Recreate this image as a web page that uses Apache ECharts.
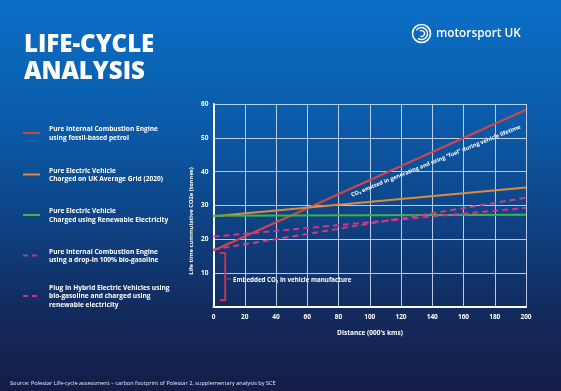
<!DOCTYPE html>
<html><head><meta charset="utf-8">
<script src="https://cdn.jsdelivr.net/npm/echarts@6/dist/echarts.min.js"></script>
<style>html,body{margin:0;padding:0;}#c{width:561px;height:391px;}</style>
</head><body><div id="c"></div>
<script>
// ---- data ----
const distance = [0, 200];
const iceFossil = [16.7, 58.3];
const bevGrid = [26.8, 35.3];
const bevRenewable = [27.0, 27.3];
const iceBio = [17.0, 32.3];
const phev = [20.8, 29.3];
const xTicks = [0, 20, 40, 60, 80, 100, 120, 140, 160, 180, 200];
const yTicks = [0, 10, 20, 30, 40, 50, 60];
const bracketX = [4, 7.5, 7.5, 4];
const bracketY = [16, 16, 2, 2];
const tickX = [8.5, 11];
const tickY = [8.3, 8.3];

const seriesNames = [
  'Pure Internal Combustion Engine\nusing fossil-based petrol',
  'Pure Electric Vehicle\nCharged on UK Average Grid (2020)',
  'Pure Electric Vehicle\nCharged using Renewable Electricity',
  'Pure Internal Combustion Engine\nusing a drop-in 100% bio-gasoline',
  'Plug In Hybrid Electric Vehicles using\nbio-gasoline and charged using\nrenewable electricity'
];
const seriesData = [iceFossil, bevGrid, bevRenewable, iceBio, phev];
const colors = ['#d2454a', '#de8a3c', '#3fb548', '#c8407c', '#e32a93'];
const legendColors = ['#c9474a', '#d98a3e', '#40b54a', '#9a4a86', '#e0288f'];
const dashed = [false, false, false, true, true];

const F = '"Open Sans", "DejaVu Sans", sans-serif';
const chart = echarts.init(document.getElementById('c'));

function pts(xs, ys){ return xs.map((x,i)=>[x, ys[i]]); }

const series = seriesData.map((d,i)=>({
  name: seriesNames[i], type: 'line', data: pts(distance, d), symbol: 'none',
  lineStyle: {color: colors[i], width: 2, type: dashed[i] ? [6,4] : 'solid'},
  z: i >= 3 ? 3 : 2, silent: true
}));
series.push({type:'line', data: pts(bracketX, bracketY), symbol:'none', lineStyle:{color:'#d8344f', width:1.8}, silent:true});
series.push({type:'line', data: pts(tickX, tickY), symbol:'none', lineStyle:{color:'#d8344f', width:1.2}, silent:true});

// legend graphics
const legendCenters = [133, 174.5, 215, 255.5, 296];
const graphics = [];
seriesNames.forEach((n,i)=>{
  const c = legendCenters[i];
  graphics.push({type:'line', shape:{x1:23,y1:c,x2:40,y2:c}, style:{stroke:legendColors[i], lineWidth:2, lineDash: dashed[i]?[5,4]:null}});
  const lines = n.split('\n').length;
  graphics.push({type:'text', x:49, y:c - lines*8.6/2 + 0.5, style:{text:n, fill:'#ffffff', font:'bold 6.6px ' + F, lineHeight:8.6, verticalAlign:'top'}});
});
// title
graphics.push({type:'text', x:24, y:32, style:{text:'LIFE-CYCLE\nANALYSIS', fill:'#ffffff', font:'800 24px ' + F, lineHeight:27, verticalAlign:'top'}});
// logo
graphics.push({type:'circle', shape:{cx:421.5, cy:33.5, r:9}, style:{fill:'none', stroke:'#ffffff', lineWidth:1.6}});
graphics.push({type:'arc', shape:{cx:421.5, cy:33.5, r:6, startAngle:-2.6, endAngle:2.2}, style:{fill:'none', stroke:'#ffffff', lineWidth:1.4}});
graphics.push({type:'arc', shape:{cx:421.5, cy:33.5, r:3, startAngle:-2.2, endAngle:2.0}, style:{fill:'none', stroke:'#ffffff', lineWidth:1.3}});
graphics.push({type:'text', x:436, y:33.5, style:{text:'motorsport UK', fill:'#ffffff', font:'600 11.8px ' + F, verticalAlign:'middle'}});
// axis names
graphics.push({type:'text', x:191, y:221, rotation:Math.PI/2, style:{text:'Life time cummulative CO2e (tonnes)', fill:'#ffffff', font:'bold 5.8px ' + F, align:'center', verticalAlign:'middle'}});
graphics.push({type:'text', x:370, y:333, style:{text:"Distance (000's kms)", fill:'#ffffff', font:'bold 6.5px ' + F, align:'center', verticalAlign:'middle'}});
// annotations
graphics.push({type:'text', x:436, y:161, rotation:0.385, style:{text:'CO\u2082 emitted in generating and using \u201cfuel\u201d during vehicle lifetime', fill:'#ffffff', font:'bold 5.6px ' + F, align:'center', verticalAlign:'middle'}});
graphics.push({type:'text', x:233, y:280, style:{text:'Embedded CO\u2082 in vehicle manufacture', fill:'#ffffff', font:'bold 6.2px ' + F, verticalAlign:'middle'}});
// source
graphics.push({type:'text', x:10, y:383, style:{text:'Source: Polestar Life-cycle assessment \u2013 carbon footprint of Polestar 2, supplementary analysis by SCE', fill:'#e8ecf5', font:'5.6px ' + F, verticalAlign:'middle'}});

chart.setOption({
  animation: false,
  backgroundColor: new echarts.graphic.LinearGradient(0,0,0,1,[
    {offset:0, color:'#0a6fc6'},
    {offset:0.3, color:'#0b5cab'},
    {offset:0.55, color:'#0e4486'},
    {offset:0.78, color:'#122c60'},
    {offset:1, color:'#161c47'}
  ]),
  grid: {left:213.5, right:35, top:104, bottom:84},
  xAxis: {type:'value', min:xTicks[0], max:xTicks[xTicks.length-1], interval:20,
    axisLine:{show:true, onZero:false, lineStyle:{color:'#ffffff', width:2}},
    axisTick:{show:false},
    axisLabel:{color:'#ffffff', fontSize:6.5, fontWeight:'bold', fontFamily:F, margin:7},
    splitLine:{show:true, lineStyle:{color:'rgba(215,228,252,0.85)', width:1}}},
  yAxis: {type:'value', min:yTicks[0], max:yTicks[yTicks.length-1], interval:10,
    axisLine:{show:true, onZero:false, lineStyle:{color:'#ffffff', width:2}},
    axisTick:{show:false},
    axisLabel:{color:'#ffffff', fontSize:6.5, fontWeight:'bold', fontFamily:F, margin:5,
      formatter: v => v === 0 ? '' : String(v)},
    splitLine:{show:true, lineStyle:{color:'rgba(215,228,252,0.85)', width:1}}},
  series: series,
  graphic: graphics
});
</script></body></html>
